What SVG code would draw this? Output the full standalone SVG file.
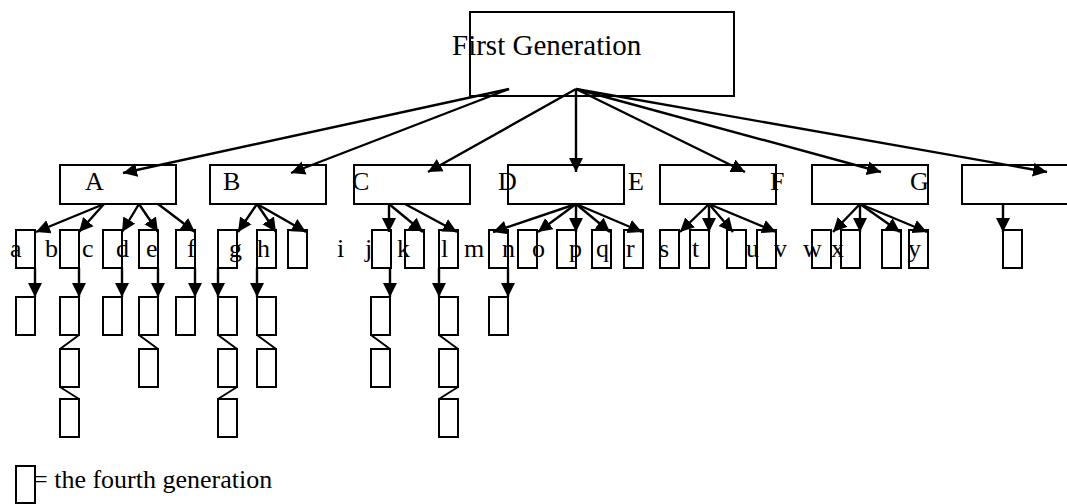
<svg xmlns="http://www.w3.org/2000/svg" width="1067" height="504" viewBox="0 0 1067 504">
<style>
rect{fill:none;stroke:#000;stroke-width:2}
text{font-family:"Liberation Serif","Times New Roman",serif;font-size:26px;fill:#000}
.c line{stroke:#000;stroke-width:2.4}
.z line{stroke:#000;stroke-width:2}
</style>
<defs>
<marker id="ah" markerUnits="userSpaceOnUse" markerWidth="16" markerHeight="16" refX="14" refY="7.5" orient="auto"><path d="M0,0.5 L14,7.5 L0,14.5 z" fill="#000"/></marker>
</defs>
<rect x="0" y="0" width="1067" height="504" style="fill:#fff;stroke:none"/>
<g id="first"><rect x="470" y="12" width="264" height="84"/><text x="452" y="55" style="font-size:29px">First Generation</text></g>
<g id="A"><rect x="60" y="165" width="116" height="39"/><text x="85" y="190">A</text></g>
<g id="B"><rect x="210" y="165" width="116" height="39"/><text x="223" y="190">B</text></g>
<g id="C"><rect x="354" y="165" width="116" height="39"/><text x="352" y="190">C</text></g>
<g id="D"><rect x="508" y="165" width="116" height="39"/><text x="498" y="190">D</text><text x="628" y="190">E</text></g>
<g id="F"><rect x="660" y="165" width="116" height="39"/><text x="770" y="190">F</text></g>
<g id="G"><rect x="812" y="165" width="116" height="39"/><text x="910" y="190">G</text></g>
<g id="H"><rect x="962" y="165" width="116" height="39"/></g>
<g id="third">
<rect x="16" y="230" width="19" height="38"/><rect x="60" y="230" width="19" height="38"/><rect x="103" y="230" width="19" height="38"/><rect x="139" y="230" width="19" height="38"/><rect x="176" y="230" width="19" height="38"/><rect x="218" y="230" width="19" height="38"/><rect x="257" y="230" width="19" height="38"/><rect x="288" y="230" width="19" height="38"/><rect x="372" y="230" width="19" height="38"/><rect x="405" y="230" width="19" height="38"/><rect x="439" y="230" width="19" height="38"/><rect x="489" y="230" width="19" height="38"/><rect x="518" y="230" width="19" height="38"/><rect x="557" y="230" width="19" height="38"/><rect x="592" y="230" width="19" height="38"/><rect x="624" y="230" width="19" height="38"/><rect x="660" y="230" width="19" height="38"/><rect x="690" y="230" width="19" height="38"/><rect x="727" y="230" width="19" height="38"/><rect x="757" y="230" width="19" height="38"/><rect x="812" y="230" width="19" height="38"/><rect x="841" y="230" width="19" height="38"/><rect x="882" y="230" width="19" height="38"/><rect x="909" y="230" width="19" height="38"/><rect x="1003" y="230" width="19" height="38"/>
</g>
<g id="labels">
<text x="10" y="257">a</text><text x="45" y="257">b</text><text x="82" y="257">c</text><text x="116" y="257">d</text><text x="146" y="257">e</text><text x="187" y="257">f</text><text x="229" y="257">g</text><text x="257" y="257">h</text><text x="337" y="257">i</text><text x="365" y="257">j</text><text x="397" y="257">k</text><text x="441" y="257">l</text><text x="464" y="257">m</text><text x="502" y="257">n</text><text x="532" y="257">o</text><text x="569" y="257">p</text><text x="596" y="257">q</text><text x="626" y="257">r</text><text x="659" y="257">s</text><text x="692" y="257">t</text><text x="746" y="257">u</text><text x="774" y="257">v</text><text x="803" y="257">w</text><text x="831" y="257">x</text><text x="908" y="257">y</text>
</g>
<g id="fourth">
<rect x="16" y="297" width="19" height="38"/><rect x="60" y="297" width="19" height="38"/><rect x="103" y="297" width="19" height="38"/><rect x="139" y="297" width="19" height="38"/><rect x="176" y="297" width="19" height="38"/><rect x="218" y="297" width="19" height="38"/><rect x="257" y="297" width="19" height="38"/><rect x="371" y="297" width="19" height="38"/><rect x="439" y="297" width="19" height="38"/><rect x="489" y="297" width="19" height="38"/>
<rect x="60" y="349" width="19" height="38"/><rect x="139" y="349" width="19" height="38"/><rect x="218" y="349" width="19" height="38"/><rect x="257" y="349" width="19" height="38"/><rect x="371" y="349" width="19" height="38"/><rect x="439" y="349" width="19" height="38"/>
<rect x="60" y="399" width="19" height="38"/><rect x="218" y="399" width="19" height="38"/><rect x="439" y="399" width="19" height="38"/>
</g>
<g id="connectors" class="c">
<line x1="509" y1="89" x2="123" y2="173" marker-end="url(#ah)"/>
<line x1="509" y1="89" x2="291" y2="173" marker-end="url(#ah)"/>
<line x1="576" y1="89" x2="428" y2="172" marker-end="url(#ah)"/>
<line x1="576" y1="89" x2="576" y2="172" marker-end="url(#ah)"/>
<line x1="576" y1="89" x2="745" y2="172" marker-end="url(#ah)"/>
<line x1="576" y1="89" x2="881" y2="172" marker-end="url(#ah)"/>
<line x1="576" y1="89" x2="1047" y2="172" marker-end="url(#ah)"/>
<line x1="104" y1="204" x2="36" y2="232" marker-end="url(#ah)"/>
<line x1="104" y1="204" x2="79" y2="232" marker-end="url(#ah)"/>
<line x1="139" y1="204" x2="122" y2="232" marker-end="url(#ah)"/>
<line x1="139" y1="204" x2="158" y2="232" marker-end="url(#ah)"/>
<line x1="158" y1="204" x2="195" y2="232" marker-end="url(#ah)"/>
<line x1="257" y1="204" x2="238" y2="232" marker-end="url(#ah)"/>
<line x1="257" y1="204" x2="276" y2="232" marker-end="url(#ah)"/>
<line x1="257" y1="204" x2="306" y2="232" marker-end="url(#ah)"/>
<line x1="389" y1="204" x2="389" y2="232" marker-end="url(#ah)"/>
<line x1="389" y1="204" x2="423" y2="232" marker-end="url(#ah)"/>
<line x1="405" y1="204" x2="457" y2="232" marker-end="url(#ah)"/>
<line x1="576" y1="204" x2="493" y2="232" marker-end="url(#ah)"/>
<line x1="576" y1="204" x2="538" y2="232" marker-end="url(#ah)"/>
<line x1="576" y1="204" x2="576" y2="232" marker-end="url(#ah)"/>
<line x1="576" y1="204" x2="610" y2="232" marker-end="url(#ah)"/>
<line x1="576" y1="204" x2="642" y2="232" marker-end="url(#ah)"/>
<line x1="709" y1="204" x2="680" y2="232" marker-end="url(#ah)"/>
<line x1="709" y1="204" x2="709" y2="232" marker-end="url(#ah)"/>
<line x1="709" y1="204" x2="733" y2="232" marker-end="url(#ah)"/>
<line x1="709" y1="204" x2="776" y2="232" marker-end="url(#ah)"/>
<line x1="860" y1="204" x2="833" y2="232" marker-end="url(#ah)"/>
<line x1="860" y1="204" x2="860" y2="232" marker-end="url(#ah)"/>
<line x1="860" y1="204" x2="900" y2="232" marker-end="url(#ah)"/>
<line x1="860" y1="204" x2="927" y2="232" marker-end="url(#ah)"/>
<line x1="1003" y1="204" x2="1003" y2="232" marker-end="url(#ah)"/>
<line x1="35" y1="268" x2="35" y2="297" marker-end="url(#ah)"/>
<line x1="79" y1="268" x2="79" y2="297" marker-end="url(#ah)"/>
<line x1="122" y1="268" x2="122" y2="297" marker-end="url(#ah)"/>
<line x1="158" y1="268" x2="158" y2="297" marker-end="url(#ah)"/>
<line x1="195" y1="268" x2="195" y2="297" marker-end="url(#ah)"/>
<line x1="218" y1="268" x2="218" y2="297" marker-end="url(#ah)"/>
<line x1="257" y1="268" x2="257" y2="297" marker-end="url(#ah)"/>
<line x1="390" y1="268" x2="390" y2="297" marker-end="url(#ah)"/>
<line x1="439" y1="268" x2="439" y2="297" marker-end="url(#ah)"/>
<line x1="508" y1="268" x2="508" y2="297" marker-end="url(#ah)"/>
</g>
<g id="zigzags" class="z">
<line x1="79" y1="335" x2="60" y2="349"/><line x1="60" y1="387" x2="79" y2="399"/>
<line x1="139" y1="335" x2="158" y2="349"/>
<line x1="218" y1="335" x2="237" y2="349"/><line x1="237" y1="387" x2="218" y2="399"/>
<line x1="257" y1="335" x2="276" y2="349"/>
<line x1="371" y1="335" x2="390" y2="349"/>
<line x1="439" y1="335" x2="458" y2="349"/><line x1="458" y1="387" x2="439" y2="399"/>
</g>
<g id="legend"><rect x="16" y="466" width="19" height="37"/><text x="33" y="488">= the fourth generation</text></g>
</svg>
